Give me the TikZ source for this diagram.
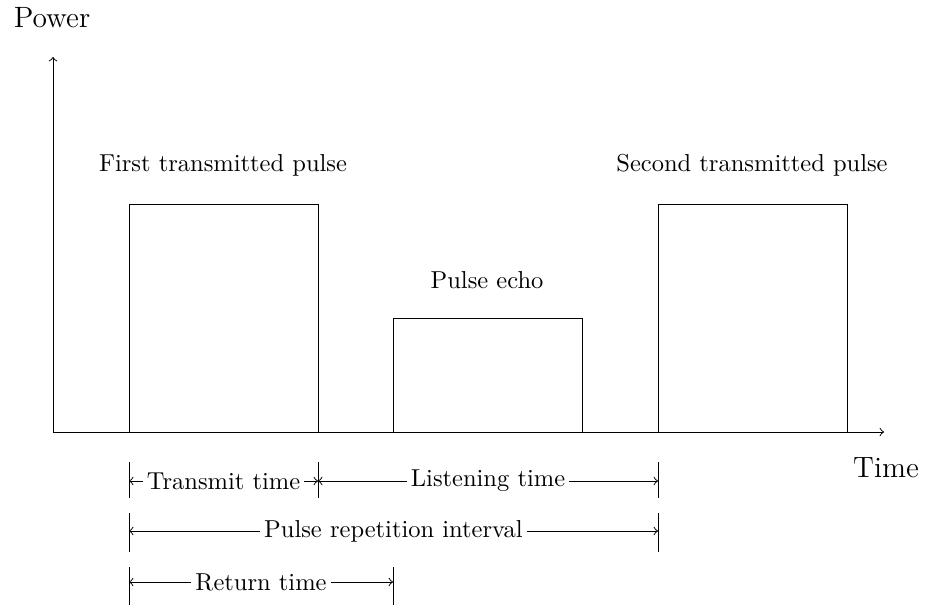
\documentclass[tikz,border=0pt]{standalone}
\begin{document}
\begin{tikzpicture}[x=0.4082pt, y=-0.4082pt, >=to,
  lbl/.style={inner sep=1.5pt},
  bar/.style={line width=0.4pt}]
\useasboundingbox (0,0) rectangle (929,607);
% axes
\coordinate (O) at (53,432);
\coordinate (ytop) at (53,57);
\coordinate (xend) at (884,432);
\draw[->] (O) -- (ytop);
\draw[->] (O) -- (xend);
\node[font=\large] (power) at (52,18) {Power};
\node[font=\large] (time) at (886,468) {Time};
% pulses
\draw (129,432) -- (129,204) -- (318,204) -- (318,432);
\draw (393,432) -- (393,318) -- (582,318) -- (582,432);
\draw (658,432) -- (658,204) -- (847,204) -- (847,432);
\node (p1) at (223,165) {First transmitted pulse};
\node (echo) at (487,280) {Pulse echo};
\node (p2) at (752,165) {Second transmitted pulse};
% bars
\draw[bar] (129,462) -- (129,498);
\draw[bar] (318,462) -- (318,498);
\draw[bar] (658,462) -- (658,498);
\draw[bar] (129,513) -- (129,552);
\draw[bar] (658,513) -- (658,552);
\draw[bar] (129,567) -- (129,605);
\draw[bar] (393,567) -- (393,605);
% dimension rows
\coordinate (a1) at (129,481);
\coordinate (b1) at (318,481);
\coordinate (c1) at (658,481);
\coordinate (a2) at (129,531);
\coordinate (c2) at (658,531);
\coordinate (a3) at (129,582);
\coordinate (d3) at (393,582);
\node[lbl] (tt) at (223.5,481) {Transmit time};
\node[lbl] (lt) at (488,481) {Listening time};
\node[lbl] (pri) at (393.5,531) {Pulse repetition interval};
\node[lbl] (rt) at (261,582) {Return time};
\draw[->] (tt.west) -- (a1);
\draw[->] (tt.east) -- (b1);
\draw[->] (lt.west) -- (b1);
\draw[->] (lt.east) -- (c1);
\draw[->] (pri.west) -- (a2);
\draw[->] (pri.east) -- (c2);
\draw[->] (rt.west) -- (a3);
\draw[->] (rt.east) -- (d3);
\end{tikzpicture}
\end{document}
